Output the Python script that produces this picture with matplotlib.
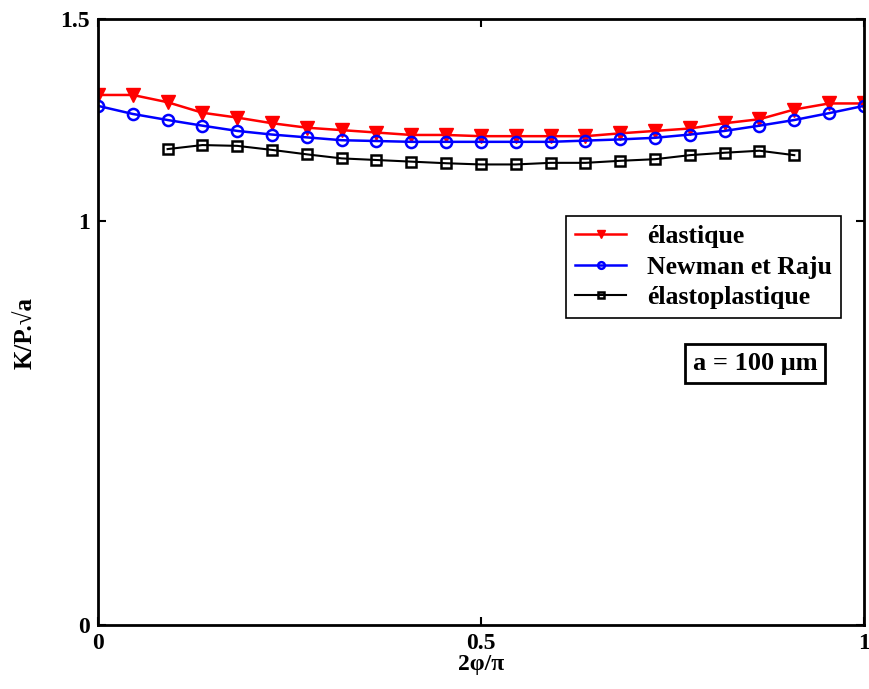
import numpy as np
import matplotlib
matplotlib.use('Agg')
import matplotlib.pyplot as plt

plt.rcParams['font.family'] = ['Liberation Serif', 'DejaVu Serif']
plt.rcParams['font.weight'] = 'bold'

# abscisse 2phi/pi : 23 points de 0 a 1
x = np.arange(23) / 22.0

elastique = [1.312, 1.312, 1.294, 1.268, 1.256, 1.242, 1.231, 1.225, 1.219, 1.213,
             1.213, 1.210, 1.210, 1.210, 1.210, 1.217, 1.223, 1.229, 1.242, 1.252,
             1.276, 1.291, 1.291]
newman_raju = [1.285, 1.265, 1.250, 1.236, 1.223, 1.214, 1.207, 1.200, 1.198, 1.196,
               1.196, 1.196, 1.196, 1.196, 1.199, 1.202, 1.206, 1.214, 1.223, 1.236,
               1.250, 1.267, 1.285]
# elastoplastique : points 2 a 20
x_ep = x[2:21]
elastoplastique = [1.178, 1.188, 1.186, 1.176, 1.165, 1.155, 1.151, 1.147, 1.143, 1.140,
                   1.140, 1.144, 1.144, 1.149, 1.153, 1.163, 1.169, 1.174, 1.163]

fig = plt.figure(figsize=(8.7, 6.89), dpi=100)
axes = fig.add_axes([0.1126, 0.0929, 0.8804, 0.8795])

axes.plot(x, elastique, color='red', lw=1.8, marker='v', markersize=10,
          markerfacecolor='red', markeredgecolor='red', label='élastique')
axes.plot(x, newman_raju, color='blue', lw=1.8, marker='o', markersize=8,
          markerfacecolor='none', markeredgecolor='blue', markeredgewidth=1.8,
          label='Newman et Raju')
axes.plot(x_ep, elastoplastique, color='black', lw=1.5, marker='s', markersize=7.5,
          markerfacecolor='none', markeredgecolor='black', markeredgewidth=1.8,
          label='élastoplastique')

axes.set_xlim(0, 1)
axes.set_ylim(0, 1.5)
axes.set_xticks([0, 0.5, 1])
axes.set_xticklabels(['0', '0.5', '1'])
axes.set_yticks([0, 1, 1.5])
axes.set_yticklabels(['0', '1', '1.5'])
axes.tick_params(direction='in', top=True, right=True, length=6, width=1.5,
                 labelsize=17, pad=6)
for s in axes.spines.values():
    s.set_linewidth(2)

axes.set_xlabel('2φ/π', fontsize=17, fontweight='bold', labelpad=0)
axes.set_ylabel('K/P.√a', fontsize=18, fontweight='bold')
axes.yaxis.set_label_coords(-0.080, 0.482)

legend = axes.legend(loc='upper left', bbox_to_anchor=(0.611, 0.675),
                     borderaxespad=0, fontsize=18.5, fancybox=False,
                     edgecolor='black', framealpha=1, handlelength=2.0,
                     markerscale=0.6, labelspacing=0.3, borderpad=0.35,
                     handletextpad=0.8)
legend.get_frame().set_linewidth(1.2)

axes.text(0.858, 0.431, 'a = 100 μm', transform=axes.transAxes, fontsize=19,
          ha='center', va='center',
          bbox=dict(boxstyle='square,pad=0.3', facecolor='white',
                    edgecolor='black', linewidth=2))

fig.savefig('out.png', dpi=100)
